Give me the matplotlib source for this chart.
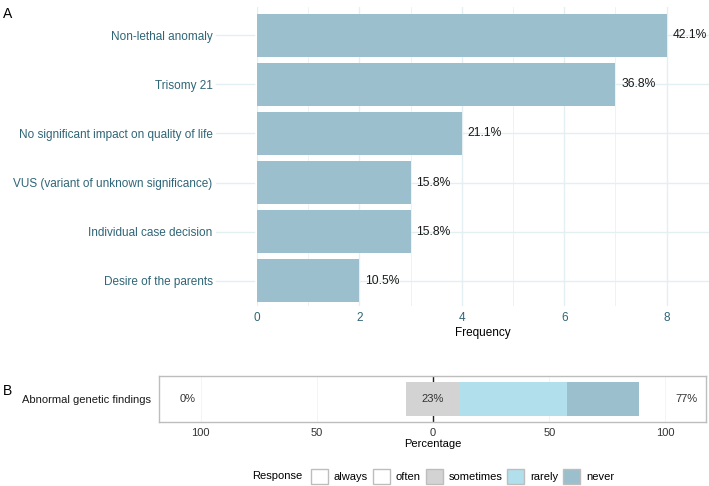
import numpy as np
import matplotlib
matplotlib.use("Agg")
from matplotlib import pyplot as plt
from matplotlib.patches import Patch
from matplotlib.offsetbox import HPacker

plt.rcParams['font.family'] = ['Liberation Sans', 'DejaVu Sans']

# panel A data
reasons = ["Non-lethal anomaly", "Trisomy 21", "No significant impact on quality of life",
           "VUS (variant of unknown significance)", "Individual case decision",
           "Desire of the parents"]
freq = [8, 7, 4, 3, 3, 2]
pct_labels = ["42.1%", "36.8%", "21.1%", "15.8%", "15.8%", "10.5%"]

# panel B data
item = "Abnormal genetic findings"
responses = ["always", "often", "sometimes", "rarely", "never"]
resp_pct = [0.0, 0.0, 23.1, 46.2, 30.8]
resp_colors = ["#FFFFFF", "#FFFFFF", "#D3D3D3", "#B2DFEC", "#9BBFCC"]
low_lab, mid_lab, high_lab = "0%", "23%", "77%"

bar_col = "#9BBFCC"
teal = "#2F6577"
grid_col = "#E4EFF2"

fig = plt.figure(figsize=(7.09, 4.86), dpi=100)

# ---- panel A
ax = fig.add_axes([0.3625, 0.370, 0.637, 0.616])
ypos = np.arange(len(reasons))[::-1]
for x in [1, 3, 5, 7]:
    ax.axvline(x, color=grid_col, lw=0.5, zorder=0)
for x in [0, 2, 4, 6, 8]:
    ax.axvline(x, color=grid_col, lw=1.0, zorder=0)
for y in ypos:
    ax.axhline(y, color=grid_col, lw=1.0, zorder=0)
ax.barh(ypos, freq, height=0.88, color=bar_col, zorder=2)
for y, v, t in zip(ypos, freq, pct_labels):
    ax.text(v + 0.11, y, t, va='center', ha='left', fontsize=8.7, color='#1A1A1A')
ax.set_xlim(0, 8.82)
ax.set_ylim(-0.52, 5.58)
ax.set_yticks(ypos)
ax.set_yticklabels(reasons, fontsize=8.5, color=teal)
ax.set_xticks([0, 2, 4, 6, 8])
ax.set_xticklabels(["0", "2", "4", "6", "8"], fontsize=8.5, color=teal)
ax.tick_params(length=0, pad=4)
ax.tick_params(axis='y', pad=32)
for s in ax.spines.values():
    s.set_visible(False)
ax.set_xlabel("Frequency", fontsize=8.5, labelpad=2)
# short grid stubs between labels and panel
for y in ypos:
    ax.plot([-0.8, -0.05], [y, y], color=grid_col, lw=1.0, clip_on=False)

fig.text(0.004, 0.985, "A", fontsize=10, va='top', ha='left')

# ---- panel B
fs_b = 8
bx = fig.add_axes([0.2243, 0.1317, 0.7715, 0.0946])
for x in [-100, -50, 0, 50, 100]:
    bx.axvline(x, color='#F2F2F2', lw=0.6, zorder=0)
bx.axvline(0, color='#222222', lw=1.0, zorder=1)
left = -resp_pct[2] / 2
for r, p, c in zip(responses[2:], resp_pct[2:], resp_colors[2:]):
    bx.barh(0, p, left=left, height=0.76, color=c, zorder=2)
    left += p
bx.text(-105.5, 0, low_lab, ha='center', va='center', fontsize=fs_b, color='#333333')
bx.text(0, 0, mid_lab, ha='center', va='center', fontsize=fs_b, color='#333333', zorder=3)
bx.text(109, 0, high_lab, ha='center', va='center', fontsize=fs_b, color='#333333')
bx.set_xlim(-118, 117.5)
bx.set_ylim(-0.5, 0.5)
bx.set_yticks([0])
bx.set_yticklabels([item], fontsize=fs_b, color='#1A1A1A')
bx.set_xticks([-100, -50, 0, 50, 100])
bx.set_xticklabels(["100", "50", "0", "50", "100"], fontsize=fs_b, color='#333333')
bx.tick_params(length=0, pad=4)
bx.tick_params(axis='y', pad=6)
for s in bx.spines.values():
    s.set_color('#BDBDBD')
    s.set_linewidth(1.0)
bx.set_xlabel("Percentage", fontsize=fs_b, labelpad=1)

fig.text(0.004, 0.195, "B", fontsize=10, va='center', ha='left')

handles = [Patch(facecolor=c, edgecolor='#BDBDBD', lw=1.0) for c in resp_colors]
leg = fig.legend(handles, responses, loc='center', bbox_to_anchor=(0.611, 0.02),
                 ncol=5, frameon=False, title="Response",
                 handlelength=1.55, handleheight=1.75, handletextpad=0.5, columnspacing=0.45,
                 prop={'size': fs_b})
leg.get_title().set_fontsize(fs_b)
# put the title on the left of the entries
title_box = leg._legend_title_box
body = leg._legend_handle_box
leg._legend_box._children = [HPacker(pad=0, sep=6, children=[title_box, body], align='center')]

fig.savefig("out.png", dpi=100)
